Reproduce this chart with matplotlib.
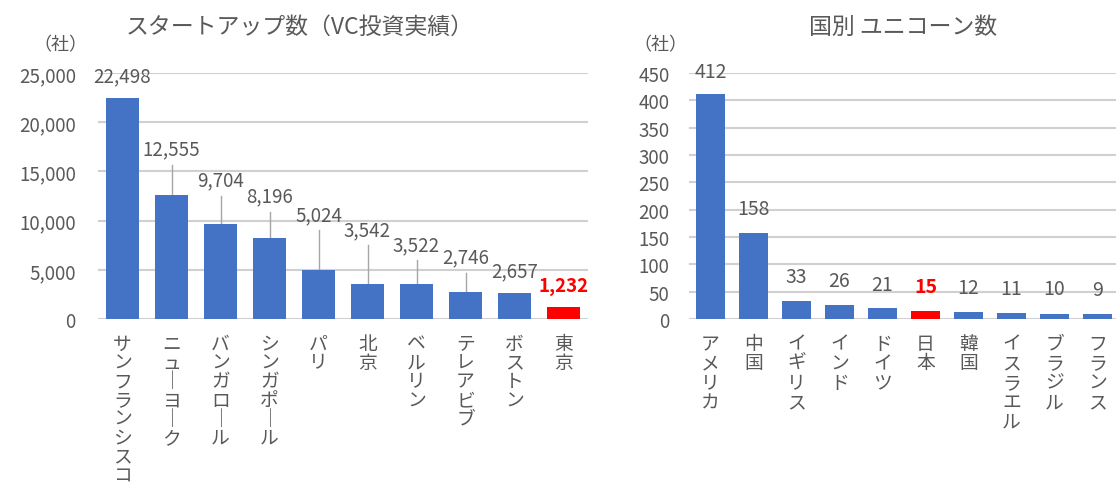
import numpy as np
import matplotlib
matplotlib.use("Agg")
import matplotlib.pyplot as plt

plt.rcParams['font.family'] = ['Noto Sans CJK JP', 'DejaVu Sans']

# =============================================
# DATA
# =============================================
cities = ["サンフランシスコ", "ニューヨーク", "バンガロール", "シンガポール", "パリ",
          "北京", "ベルリン", "テレアビブ", "ボストン", "東京"]
startups = [22498, 12555, 9704, 8196, 5024, 3542, 3522, 2746, 2657, 1232]
# label heights (data units) as placed in the original chart
startup_lbl_y = [24700, 17300, 14100, 12500, 10600, 9100, 7550, 6300, 4850, 3400]

countries = ["アメリカ", "中国", "イギリス", "インド", "ドイツ",
             "日本", "韓国", "イスラエル", "ブラジル", "フランス"]
unicorns = [412, 158, 33, 26, 21, 15, 12, 11, 10, 9]
unicorn_lbl_y = [452, 202, 78, 70, 64, 59, 57, 55, 55, 54]

BLUE = "#4472C4"
RED = "#FF0000"
GRAY = "#595959"
GRID = "#d0d0d0"

W, H = 1116, 489
fig = plt.figure(figsize=(W / 100, H / 100), dpi=100)


def vert(s):
    return "\n".join(s.replace("ー", "｜"))


def setup(ax, ymax, step, pad):
    ax.set_ylim(0, ymax)
    ax.set_xlim(-0.5, 9.5)
    ax.set_yticks(np.arange(0, ymax + 1, step))
    ax.yaxis.grid(True, color=GRID, linewidth=1.5)
    ax.set_axisbelow(True)
    for sp in ax.spines.values():
        sp.set_visible(False)
    ax.tick_params(axis="both", length=0, colors=GRAY, labelsize=13.5)
    ax.tick_params(axis="y", pad=pad)
    ax.tick_params(axis="x", pad=10)


# =============================================
# LEFT: スタートアップ数
# =============================================
ax1 = fig.add_axes([98 / W, 1 - 320 / H, 490 / W, 246 / H])
setup(ax1, 25000, 5000, 16)
ax1.yaxis.set_major_formatter(matplotlib.ticker.StrMethodFormatter("{x:,.0f}"))
x = np.arange(len(cities))
colors1 = [RED if c == "東京" else BLUE for c in cities]
ax1.bar(x, startups, width=0.68, color=colors1, zorder=2)
ax1.set_xticks(x)
ax1.set_xticklabels([vert(c) for c in cities], va="top", linespacing=0.86)
for i, (v, ly) in enumerate(zip(startups, startup_lbl_y)):
    red = cities[i] == "東京"
    ax1.text(i, ly, f"{v:,}", ha="center", va="center", fontsize=13.5,
             color=RED if red else GRAY, fontweight="bold" if red else "normal", zorder=3)
    top = ly - 1600
    if top - v > 1000:
        ax1.plot([i, i], [v, top], color="#a6a6a6", linewidth=1, zorder=1)

# =============================================
# RIGHT: 国別 ユニコーン数
# =============================================
ax2 = fig.add_axes([689 / W, 1 - 320 / H, 430 / W, 246 / H])
setup(ax2, 450, 50, 14)
x2 = np.arange(len(countries))
colors2 = [RED if c == "日本" else BLUE for c in countries]
ax2.bar(x2, unicorns, width=0.67, color=colors2, zorder=2)
ax2.set_xticks(x2)
ax2.set_xticklabels([vert(c) for c in countries], va="top", linespacing=0.9)
for i, (v, ly) in enumerate(zip(unicorns, unicorn_lbl_y)):
    red = countries[i] == "日本"
    ax2.text(i, ly, f"{v}", ha="center", va="center", fontsize=14,
             color=RED if red else GRAY, fontweight="bold" if red else "normal", zorder=3)

# =============================================
# TITLES / UNITS
# =============================================
fig.text(300 / W, 1 - 27 / H, "スタートアップ数（VC投資実績）", ha="center", va="center",
         fontsize=16.5, color=GRAY)
fig.text(903 / W, 1 - 27 / H, "国別 ユニコーン数", ha="center", va="center",
         fontsize=16.5, color=GRAY)
fig.text(60 / W, 1 - 45 / H, "（社）", ha="center", va="center", fontsize=13, color=GRAY)
fig.text(660 / W, 1 - 45 / H, "（社）", ha="center", va="center", fontsize=13, color=GRAY)

plt.savefig("out.png", dpi=100)
